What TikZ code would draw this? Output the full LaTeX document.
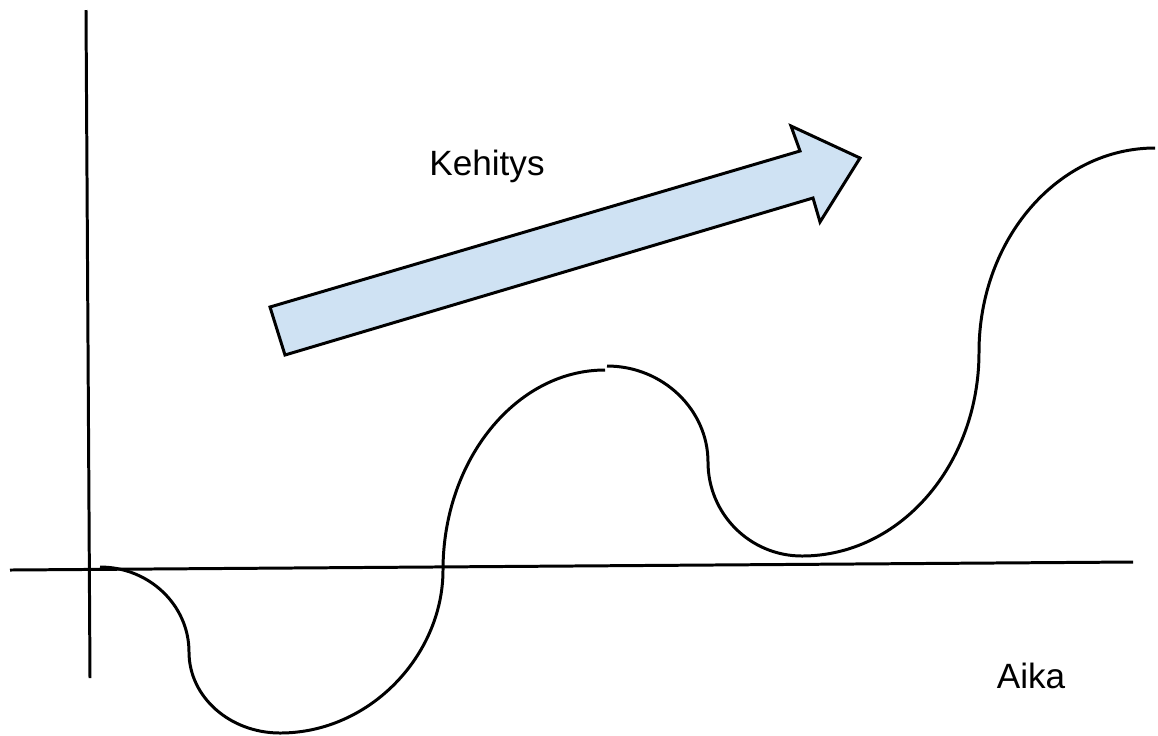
\documentclass[tikz,border=0pt]{standalone}
\usepackage{fontspec}
\setmainfont{Liberation Sans}
\definecolor{arrowblue}{RGB}{207,226,243}

\begin{document}
\begin{tikzpicture}[x=0.02cm,y=-0.02cm,
  axis/.style={line width=1.7pt},
  wave/.style={line width=1.7pt},
  bigarrow/.style={draw,line width=1.7pt,fill=arrowblue,line join=miter},
  lab/.style={font=\fontsize{20}{24}\selectfont,inner sep=0pt,anchor=base}]
  \useasboundingbox (0,0) rectangle (1158,735);

  % axes
  \coordinate (ytop) at (86,10);
  \coordinate (ybot) at (90,678);
  \coordinate (xleft) at (10,570);
  \coordinate (xright) at (1133,562);
  \draw[axis] (ytop) -- (ybot);
  \draw[axis] (xleft) -- (xright);

  % development arrow
  \draw[bigarrow] (270,307) -- (800,151) -- (791,126) -- (860,158)
    -- (820,222) -- (813,198) -- (285,355) -- cycle;
  \node[lab] (kehitys) at (487,175) {Kehitys};
  \node[lab] (aika) at (1031,688) {Aika};

  % the wave
  \draw[wave] (100,567) .. controls (149,567) and (189,605) .. (189,652)
    .. controls (189,697) and (230,733) .. (280,733)
    .. controls (370,733) and (443,655) .. (443,570)
    .. controls (443,460) and (516,370) .. (605,370);
  \draw[wave] (607,366) .. controls (663,366) and (708,410) .. (708,462)
    .. controls (708,514) and (750,556) .. (802,556)
    .. controls (900,556) and (979,465) .. (979,352)
    .. controls (979,239) and (1058,148) .. (1155,148);
\end{tikzpicture}
\end{document}
